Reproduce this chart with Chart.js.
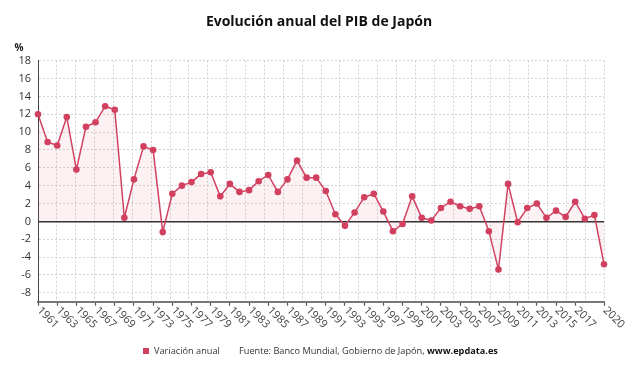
<!DOCTYPE html>
<html>
<head>
<meta charset="utf-8">
<script src="https://cdn.jsdelivr.net/npm/chart.js@4.4.0/dist/chart.umd.min.js"></script>
<style>
  html, body { margin: 0; padding: 0; background: #fff; }
  #wrap { width: 638px; height: 375px; }
</style>
</head>
<body>
<div id="wrap"><canvas id="chart" width="638" height="375"></canvas></div>
<script>
const years = [];
for (let y = 1961; y <= 2020; y++) years.push(String(y));

// variación anual del PIB (%)
const gdpGrowth = [
  12.0, 8.9, 8.5, 11.7, 5.8, 10.6, 11.1, 12.9, 12.5, 0.4,
  4.7, 8.4, 8.0, -1.2, 3.1, 4.0, 4.4, 5.3, 5.5, 2.8,
  4.2, 3.3, 3.5, 4.5, 5.2, 3.3, 4.7, 6.8, 4.9, 4.9,
  3.4, 0.8, -0.5, 1.0, 2.7, 3.1, 1.1, -1.1, -0.3, 2.8,
  0.4, 0.1, 1.5, 2.2, 1.7, 1.4, 1.7, -1.1, -5.4, 4.2,
  -0.1, 1.5, 2.0, 0.4, 1.2, 0.5, 2.2, 0.3, 0.7, -4.8
];

const xTickLabels = [
  "1961", "1963", "1965", "1967", "1969", "1971", "1973", "1975", "1977", "1979",
  "1981", "1983", "1985", "1987", "1989", "1991", "1993", "1995", "1997", "1999",
  "2001", "2003", "2005", "2007", "2009", "2011", "2013", "2015", "2017", "2020"
];
const yTicks = [-8, -6, -4, -2, 0, 2, 4, 6, 8, 10, 12, 14, 16, 18];

const lineColor = "#d1405f";
const font = "'Open Sans', 'Noto Sans', sans-serif";

const extras = {
  id: "extras",
  afterDraw(chart) {
    const ctx = chart.ctx;
    const xs = chart.scales.x;
    ctx.save();

    // titulo
    ctx.fillStyle = "#111";
    ctx.font = "bold 14px " + font;
    ctx.textAlign = "center";
    ctx.textBaseline = "middle";
    ctx.fillText("Evolución anual del PIB de Japón", 319, 22);

    // unidad
    ctx.font = "bold 10px " + font;
    ctx.fillStyle = "#222";
    ctx.fillText("%", 19, 48);

    // etiquetas del eje x, giradas hacia abajo
    ctx.font = "11px " + font;
    ctx.fillStyle = "#444";
    ctx.textAlign = "left";
    xs.ticks.forEach((t, i) => {
      const px = xs.getPixelForTick(i);
      ctx.save();
      ctx.translate(px + 1, xs.top + 7);
      ctx.rotate(Math.PI / 4);
      ctx.fillText(years[t.value], 0, 0);
      ctx.restore();
    });

    // leyenda y fuente
    ctx.fillStyle = lineColor;
    ctx.fillRect(143, 348, 6, 6);
    ctx.fillStyle = "#333";
    ctx.font = "9.2px " + font;
    ctx.textBaseline = "middle";
    ctx.fillText("Variación anual", 154, 351);
    const src = "Fuente: Banco Mundial, Gobierno de Japón, ";
    ctx.fillText(src, 239, 351);
    const w = ctx.measureText(src).width;
    ctx.font = "bold 9.2px " + font;
    ctx.fillStyle = "#111";
    ctx.fillText("www.epdata.es", 239 + w, 351);

    ctx.restore();
  }
};

new Chart(document.getElementById("chart"), {
  type: "line",
  data: {
    labels: years,
    datasets: [{
      label: "Variación anual",
      data: gdpGrowth,
      borderColor: lineColor,
      borderWidth: 1.5,
      backgroundColor: "rgba(209,64,95,0.07)",
      fill: "origin",
      tension: 0,
      pointRadius: 3.3,
      pointBackgroundColor: lineColor,
      pointBorderColor: lineColor,
      pointBorderWidth: 0
    }]
  },
  options: {
    responsive: false,
    animation: false,
    layout: { padding: { top: 60.7, right: 34, left: 0, bottom: 0 } },
    plugins: {
      legend: { display: false },
      tooltip: { enabled: false }
    },
    scales: {
      x: {
        type: "category",
        offset: false,
        afterBuildTicks(scale) {
          scale.ticks = scale.ticks.filter(t => xTickLabels.includes(years[t.value]));
        },
        afterFit(scale) { scale.height = 73.3; },
        ticks: { display: false, autoSkip: false },
        grid: {
          display: true,
          drawOnChartArea: false,
          drawTicks: true,
          tickLength: 4,
          tickColor: "#555",
          tickWidth: 1.2
        },
        border: { display: true, color: "#777", width: 2 }
      },
      xg: {
        type: "linear",
        position: "bottom",
        min: 0,
        max: 30,
        afterFit(scale) { scale.height = 0; },
        ticks: { display: false, stepSize: 1 },
        grid: { color: "#d2d2d2", lineWidth: 1, drawTicks: false },
        border: { display: false, dash: [2, 2] }
      },
      y: {
        min: -9,
        max: 18,
        afterBuildTicks(scale) {
          scale.ticks = yTicks.map(v => ({ value: v }));
        },
        afterFit(scale) { scale.width = 38; },
        ticks: {
          color: "#333",
          padding: 7,
          font: { family: font, size: 11 }
        },
        grid: {
          drawTicks: false,
          color: c => (c.tick && c.tick.value === 0) ? "#333" : "#d2d2d2",
          lineWidth: c => (c.tick && c.tick.value === 0) ? 1.5 : 1
        },
        border: {
          display: true,
          color: "#444",
          width: 1,
          dash: c => (c.tick && c.tick.value === 0) ? [] : [2, 2]
        }
      }
    }
  },
  plugins: [extras]
});
</script>
</body>
</html>
